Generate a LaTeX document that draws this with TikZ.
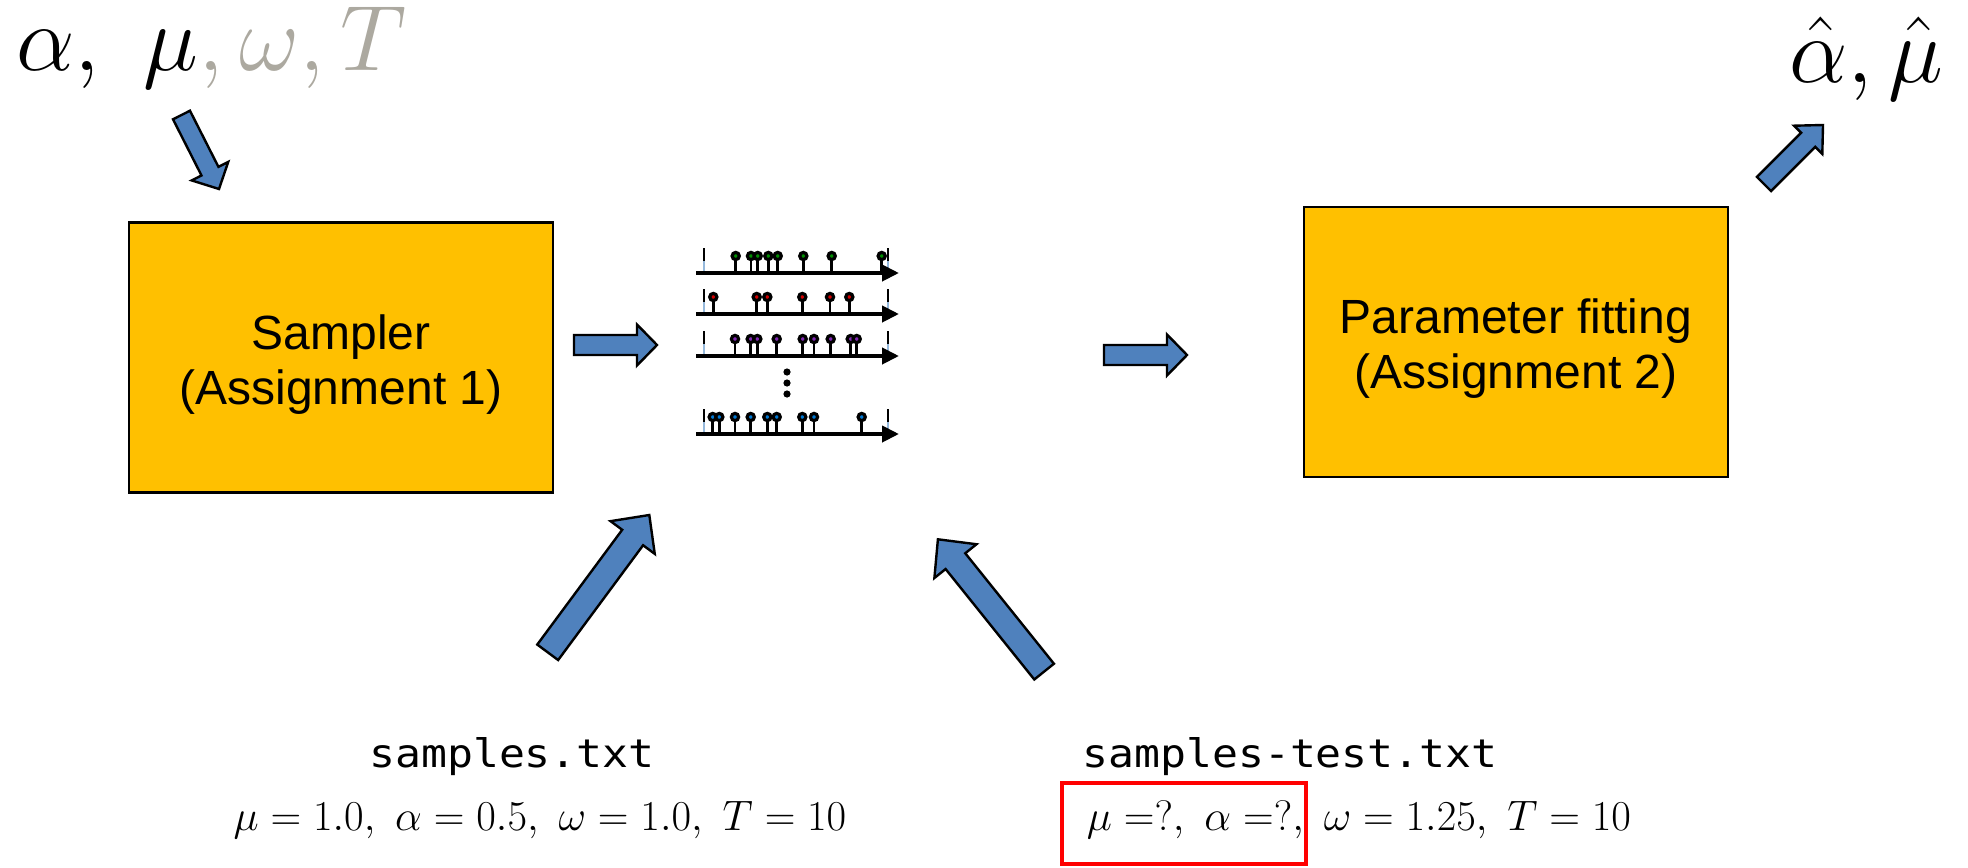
\RequirePackage{fix-cm}
\documentclass[tikz,border=0pt]{standalone}
\usepackage{fontspec}
\usetikzlibrary{calc,arrows.meta}
\newfontfamily\boxfont{Liberation Sans}
\newfontfamily\codefont[FakeStretch=1.1]{DejaVu Sans Mono}
\definecolor{boxorange}{RGB}{255,192,0}
\definecolor{arrowblue}{RGB}{79,129,189}
\definecolor{pgray}{RGB}{172,169,160}
\definecolor{fenceblue}{RGB}{150,185,220}
\definecolor{evgreen}{RGB}{0,140,0}
\definecolor{evred}{RGB}{210,0,0}
\definecolor{evpurple}{RGB}{130,40,180}
\definecolor{evblue}{RGB}{0,120,210}

\tikzset{
  procbox/.style={draw=black, line width=1.1pt, fill=boxorange,
    minimum width=212pt, minimum height=135pt, inner sep=0pt},
  boxlabel/.style={font=\boxfont\fontsize{24}{27.5}\selectfont, align=center, inner sep=0pt},
  blockarrow/.style={draw=black, line width=1.2pt, fill=arrowblue, line join=miter},
  seqaxis/.style={line width=2pt, -{Triangle[length=8.5pt,width=8pt]}},
  stem/.style={line width=1.3pt},
  evdot/.style={draw=black, line width=1.6pt},
  fencehi/.style={draw=black, line width=1pt},
  fencelo/.style={draw=fenceblue, line width=1pt},
  bigmath/.style={font=\fontsize{46.5}{55}\selectfont, inner sep=0pt},
  midmath/.style={font=\fontsize{21.3}{25}\selectfont, inner sep=0pt},
  codetext/.style={font=\codefont\fontsize{19.6}{23}\selectfont, inner sep=0pt},
  redframe/.style={draw=red, line width=2pt},
}

% block arrow: tail, tip, half shaft width, half head width, head length
\newcommand\blockarrow[5]{%
  \coordinate (ba-neck) at ($(#2)!#5!(#1)$);
  \draw[blockarrow] ($(#1)!#3!90:(#2)$) -- ($(ba-neck)!#3!90:(#2)$)
    -- ($(ba-neck)!#4!90:(#2)$) -- (#2) -- ($(ba-neck)!#4!-90:(#2)$)
    -- ($(ba-neck)!#3!-90:(#2)$) -- ($(#1)!#3!-90:(#2)$) -- cycle;}

% one observed sequence: axis height, event colour, event times
\newcommand\eventrow[3]{%
  \draw[fencelo] (704,#1) -- (704,{#1-12});
  \draw[fencehi] (704,{#1-12}) -- (704,{#1-25});
  \draw[fencelo] (888,#1) -- (888,{#1-12});
  \draw[fencehi] (888,{#1-12}) -- (888,{#1-25});
  \draw[seqaxis] (696,#1) -- (899,#1);
  \foreach \ex in {#3} {
    \draw[stem] (\ex,#1) -- (\ex,{#1-17});
    \filldraw[evdot, fill=#2] (\ex,{#1-17}) circle[radius=1.8pt];
  }}

\begin{document}
\begin{tikzpicture}[x=0.5pt,y=-0.5pt]
\useasboundingbox (0,0) rectangle (1968,867);

% input parameters and estimates
\node[bigmath, anchor=base west] (params) at (16,70)
  {$\alpha,\ \mu{\color{pgray},\omega,T}$};
\node[bigmath, anchor=base west] (estimates) at (1789,82)
  {$\hat\alpha,\hat\mu$};

% processing stages
\node[procbox] (sampler) at (341,357.5) {};
\node[boxlabel] (sampler-text) at ([yshift=-3.5pt]sampler.center)
  {Sampler\\(Assignment 1)};
\node[procbox] (fitter) at (1516,342) {};
\node[boxlabel] (fitter-text) at ([yshift=-3.5pt]fitter.center)
  {Parameter fitting\\(Assignment 2)};

% simulated event sequences
\eventrow{273}{evgreen}{735.7,751,757.7,768.3,777.7,803.3,831.7,881.7}
\eventrow{314}{evred}{713.3,756.7,767.3,802.3,830,849.3}
\eventrow{356}{evpurple}{735,750.7,757.3,776.7,802.7,814,830.7,850.7,856.7}
\eventrow{434}{evblue}{712.7,719.3,735,750.7,767.3,776.7,802.3,814,861.7}
\fill (787,372) circle[radius=1.8pt];
\fill (787,383) circle[radius=1.8pt];
\fill (787,394) circle[radius=1.8pt];

% data files
\node[codetext, anchor=base] (trainfile) at (512,767) {samples.txt};
\node[midmath, anchor=base] (trainparams) at (540,830)
  {$\mu=1.0,\ \alpha=0.5,\ \omega=1.0,\ T=10$};
\node[codetext, anchor=base] (testfile) at (1290,767) {samples-test.txt};
\node[midmath, anchor=base] (testparams) at (1359,830)
  {$\mu =?,\ \alpha =?,\ \omega=1.25,\ T=10$};
\draw[redframe] (1062,783) rectangle (1306,864);

% flow arrows
\coordinate (a1-tail) at (181.5,115);  \coordinate (a1-tip) at (219,189);
\coordinate (a2-tail) at (574,345);    \coordinate (a2-tip) at (657,345);
\coordinate (a3-tail) at (1104,355);   \coordinate (a3-tip) at (1187,355);
\coordinate (a4-tail) at (1764,184);   \coordinate (a4-tip) at (1823,125);
\coordinate (a5-tail) at (547.7,652.3); \coordinate (a5-tip) at (649.3,515);
\coordinate (a6-tail) at (1044.1,671.6); \coordinate (a6-tip) at (937.9,539.3);
\blockarrow{a1-tail}{a1-tip}{4.75pt}{10.25pt}{10pt}
\blockarrow{a2-tail}{a2-tip}{5pt}{10.25pt}{10pt}
\blockarrow{a3-tail}{a3-tip}{5pt}{10.25pt}{10pt}
\blockarrow{a4-tail}{a4-tip}{5pt}{10pt}{10.5pt}
\blockarrow{a5-tail}{a5-tip}{6.5pt}{13.75pt}{14pt}
\blockarrow{a6-tail}{a6-tip}{6.3pt}{13.5pt}{14pt}
\end{tikzpicture}
\end{document}
